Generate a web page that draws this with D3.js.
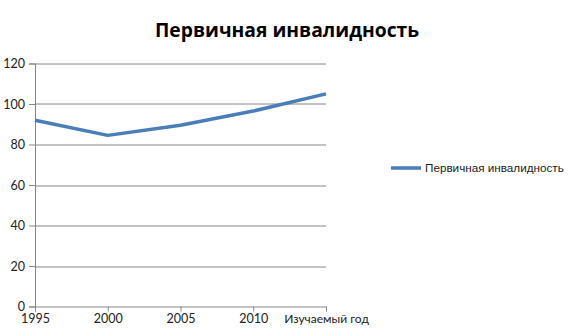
<!DOCTYPE html>
<html>
<head>
<meta charset="utf-8">
<script src="https://cdn.jsdelivr.net/npm/d3@7"></script>
<style>
  body { margin: 0; background: #fff; }
  svg { display: block; }
</style>
</head>
<body>
<svg width="576" height="336"></svg>
<script>
var categories = ["1995", "2000", "2005", "2010", "Изучаемый год"];
var values = [92, 84.5, 89.5, 96.5, 105];
var yTicks = [0, 20, 40, 60, 80, 100, 120];
var seriesName = "Первичная инвалидность";

var margin = { top: 63.5, bottom: 29.5, left: 35, right: 250 };
var svg = d3.select("svg");
var width = 576 - margin.left - margin.right;
var height = 336 - margin.top - margin.bottom;

var xscale = d3.scalePoint().domain(categories).range([0, width]);
var yscale = d3.scaleLinear().domain([0, 120]).range([height, 0]);

var g = svg.append("g")
    .attr("transform", `translate(${margin.left}, ${margin.top})`);

// grid
g.selectAll("line.grid").data(yTicks.slice(1)).enter().append("line")
    .attr("class", "grid")
    .attr("x1", 0).attr("x2", width)
    .attr("y1", function (d) { return Math.round(yscale(d)) + 0.5; })
    .attr("y2", function (d) { return Math.round(yscale(d)) + 0.5; })
    .attr("stroke", "#868686").attr("stroke-width", 1);

var yAxis = d3.axisLeft(yscale).tickValues(yTicks).tickSize(6).tickPadding(4);
var ya = g.append("g").call(yAxis);
ya.selectAll("text").attr("font-family", "Lato").attr("font-size", 12.5).attr("fill", "#222");

var xAxis = d3.axisBottom(xscale).tickSize(5).tickPadding(3);
var xa = g.append("g").attr("transform", `translate(0, ${height})`).call(xAxis);
xa.selectAll("text").attr("font-family", "Lato").attr("font-size", 12.5).attr("fill", "#222");
xa.selectAll("text").filter(function (d) { return d === "Изучаемый год"; }).attr("font-size", 12);

[ya, xa].forEach(function (a) {
    a.select(".domain").attr("stroke", "#868686");
    a.selectAll(".tick line").attr("stroke", "#868686");
});

var line = d3.line()
    .x(function (d, i) { return xscale(categories[i]); })
    .y(function (d) { return yscale(d); });

g.append("path").datum(values)
    .attr("d", line)
    .attr("fill", "none")
    .attr("stroke", "#4a7ebb")
    .attr("stroke-width", 3.5)
    .attr("stroke-linejoin", "round");

svg.append("text")
    .attr("x", 287).attr("y", 37)
    .attr("text-anchor", "middle")
    .attr("font-family", "Open Sans")
    .attr("font-weight", "bold")
    .attr("font-size", 19.3)
    .attr("fill", "#000")
    .text(seriesName);

var legend = svg.append("g").attr("transform", "translate(391, 168)");
legend.append("line").attr("x1", 0).attr("x2", 30).attr("y1", 0).attr("y2", 0)
    .attr("stroke", "#4a7ebb").attr("stroke-width", 3.5);
legend.append("text").attr("x", 34).attr("y", 0).attr("dy", "0.35em")
    .attr("font-family", "Liberation Sans").attr("font-size", 11.7).attr("fill", "#222")
    .text(seriesName);
</script>
</body>
</html>
